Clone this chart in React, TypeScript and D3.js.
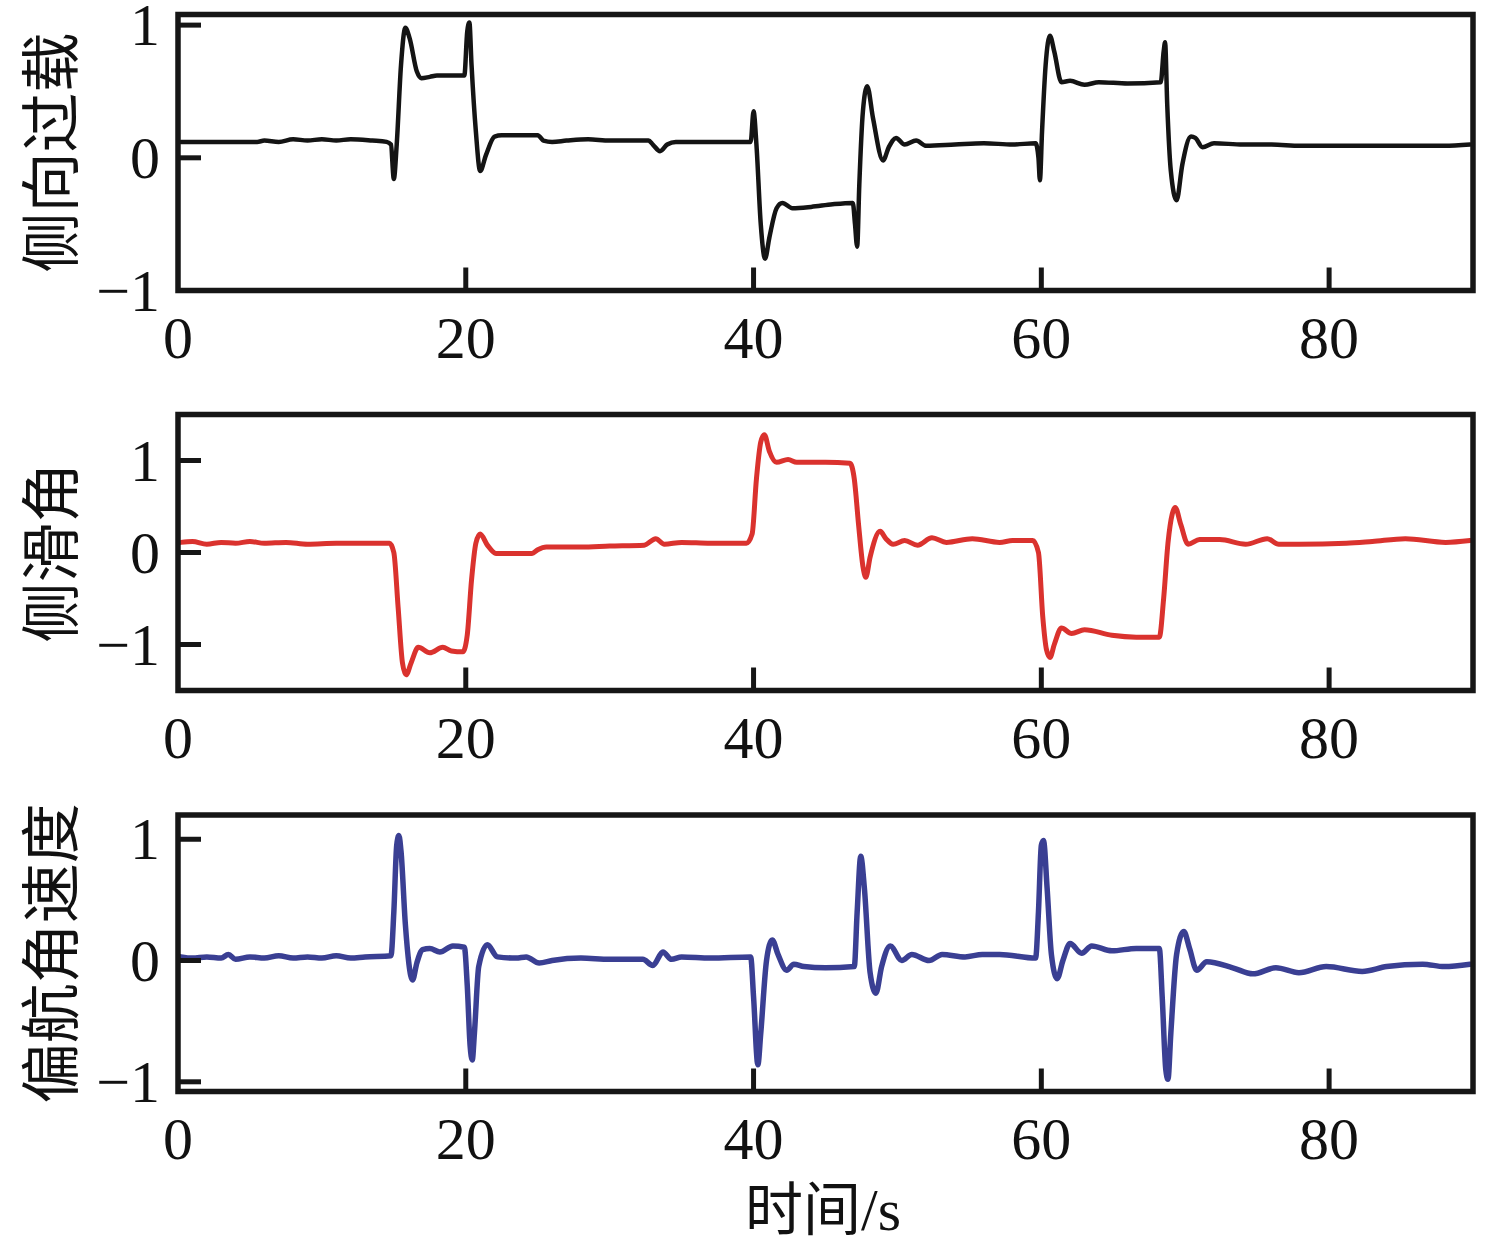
import React from "react";
import * as d3 from "d3";

type P = [number, number];

const timeTicks = [0, 20, 40, 60, 80];
const yTicks = [-1, 0, 1];

const lateralOverload: P[] = [
  [0.2,0.12],[3,0.12],[5.5,0.12],[6,0.13],[7,0.12],[8,0.14],[9,0.13],[10,0.14],[11,0.13],[12,0.14],[13.5,0.13],[14.5,0.12],[14.8,0.10],[15.0,-0.16],[15.2,0.1],[15.5,0.7],[15.8,0.98],[16.1,0.9],[16.6,0.65],[16.9,0.60],[17.5,0.61],[18,0.62],[19,0.62],[19.9,0.62],[20.1,0.95],[20.25,1.02],[20.4,0.7],[20.7,0.2],[21.0,-0.10],[21.4,0.02],[22.0,0.16],[22.5,0.17],[25,0.17],[25.4,0.13],[26,0.12],[27,0.13],[28.5,0.14],[30,0.13],[32.7,0.13],[33.0,0.10],[33.5,0.05],[34,0.10],[34.6,0.12],[39.8,0.12],[40.0,0.35],[40.2,0.1],[40.5,-0.5],[40.8,-0.76],[41.1,-0.6],[41.6,-0.38],[42.0,-0.34],[42.7,-0.38],[44,-0.37],[45.5,-0.35],[46.9,-0.34],[47.05,-0.5],[47.2,-0.67],[47.35,-0.2],[47.6,0.35],[47.9,0.54],[48.3,0.3],[49.0,-0.02],[49.4,0.08],[49.9,0.15],[50.5,0.10],[51.3,0.13],[52,0.09],[54,0.1],[56,0.11],[58,0.1],[59.6,0.11],[59.8,0.0],[59.9,-0.17],[60.05,0.2],[60.3,0.7],[60.6,0.92],[60.9,0.8],[61.4,0.57],[62,0.58],[63,0.55],[64,0.57],[66,0.56],[68.3,0.57],[68.5,0.8],[68.6,0.87],[68.75,0.4],[69.0,-0.1],[69.4,-0.32],[69.8,-0.05],[70.4,0.16],[70.7,0.15],[71.2,0.08],[72,0.11],[74,0.10],[76,0.10],[78,0.09],[80,0.09],[84,0.09],[88,0.09],[89.8,0.10],
];

const sideslipAngle: P[] = [
  [0.2,0.11],[1,0.12],[2,0.09],[3,0.11],[4,0.10],[5,0.12],[6,0.10],[7.5,0.11],[9,0.09],[11,0.10],[13,0.10],[14.7,0.10],[15.0,0.0],[15.3,-0.6],[15.6,-1.2],[15.85,-1.33],[16.2,-1.2],[16.7,-1.03],[17.5,-1.09],[18.4,-1.03],[19,-1.07],[19.8,-1.08],[20.1,-0.9],[20.4,-0.3],[20.7,0.1],[21.0,0.20],[21.5,0.08],[22.1,-0.01],[24.6,-0.01],[25.0,0.03],[25.6,0.06],[28,0.06],[30,0.07],[32.4,0.08],[33.2,0.15],[33.8,0.09],[35,0.11],[37,0.10],[39.5,0.10],[39.9,0.2],[40.2,0.8],[40.5,1.2],[40.75,1.28],[41.1,1.1],[41.6,0.98],[42.4,1.01],[43,0.98],[45,0.98],[46.7,0.97],[47.0,0.8],[47.3,0.3],[47.6,-0.15],[47.8,-0.27],[48.1,-0.05],[48.8,0.23],[49.2,0.15],[49.7,0.09],[50.5,0.13],[51.4,0.08],[52.4,0.16],[53.4,0.11],[55.2,0.15],[57.1,0.11],[58,0.13],[59.4,0.13],[59.8,0.0],[60.1,-0.7],[60.35,-1.05],[60.6,-1.14],[60.9,-1.0],[61.4,-0.82],[62.1,-0.88],[63.0,-0.84],[64.9,-0.90],[66.6,-0.92],[68.2,-0.92],[68.5,-0.5],[68.8,0.1],[69.1,0.42],[69.3,0.49],[69.7,0.3],[70.2,0.09],[71.0,0.14],[72.4,0.14],[74.2,0.09],[75.7,0.15],[76.5,0.09],[77.9,0.09],[81.2,0.10],[83,0.12],[85.3,0.15],[88.1,0.11],[89.8,0.13],
];

const yawRate: P[] = [
  [0.2,0.03],[1,0.02],[2,0.03],[3,0.02],[3.5,0.05],[4,0.01],[5,0.03],[6,0.02],[7,0.04],[8,0.02],[9,0.03],[10,0.02],[11,0.04],[12,0.02],[13,0.03],[14.8,0.04],[15.0,0.4],[15.2,0.95],[15.35,1.03],[15.5,0.9],[15.8,0.3],[16.3,-0.16],[16.6,-0.02],[17.0,0.09],[17.5,0.1],[18.2,0.07],[19.1,0.12],[19.9,0.11],[20.1,-0.2],[20.3,-0.7],[20.45,-0.82],[20.6,-0.6],[20.9,-0.05],[21.5,0.13],[22.2,0.03],[23.5,0.02],[24.2,0.03],[25.1,-0.02],[26,0.0],[28,0.02],[30,0.01],[32.3,0.01],[33.0,-0.04],[33.7,0.07],[34.3,0.01],[35,0.03],[37,0.02],[39.8,0.03],[40.0,-0.3],[40.3,-0.86],[40.5,-0.6],[40.9,0.0],[41.3,0.17],[41.7,0.05],[42.3,-0.08],[42.8,-0.03],[43.5,-0.05],[45,-0.06],[47.0,-0.05],[47.2,0.4],[47.45,0.86],[47.7,0.6],[48.1,-0.1],[48.5,-0.27],[48.9,-0.05],[49.5,0.12],[50.3,0.0],[51.0,0.05],[52.2,0.0],[53.1,0.05],[54.7,0.03],[55.9,0.05],[57.1,0.05],[59.6,0.02],[59.8,0.4],[60.0,0.95],[60.15,0.99],[60.4,0.6],[60.7,0.05],[61.1,-0.15],[61.5,0.0],[62.0,0.14],[62.8,0.06],[63.5,0.12],[64.9,0.08],[66.6,0.10],[68.2,0.10],[68.4,-0.3],[68.65,-0.9],[68.8,-0.98],[69.0,-0.6],[69.4,0.05],[69.9,0.24],[70.3,0.1],[70.8,-0.08],[71.5,-0.01],[73.3,-0.06],[74.7,-0.11],[76.3,-0.06],[77.9,-0.10],[79.8,-0.05],[82.3,-0.09],[84,-0.05],[86.5,-0.03],[88,-0.05],[89.8,-0.03],
];

const panelLabels = ["侧向过载", "侧滑角", "偏航角速度"];
const xAxisTitle = "时间";
const xAxisUnit = "/s";

const W = 1493;
const H = 1244;
const X0 = 178;
const X1 = 1473;
const FRAME = "#161616";
const SERIF = "'Liberation Serif', 'Times New Roman', serif";
const CJK = "'Noto Sans CJK SC', 'Noto Sans CJK JP', sans-serif";

const panels = [
  { data: lateralOverload, color: "#141414", width: 4.5, top: 14.5, bottom: 290.5, domain: [-1, 1.08] as [number, number], label: panelLabels[0] },
  { data: sideslipAngle, color: "#da322e", width: 5, top: 414.5, bottom: 690.5, domain: [-1.5, 1.5] as [number, number], label: panelLabels[1] },
  { data: yawRate, color: "#3a3f93", width: 5.5, top: 815, bottom: 1091.5, domain: [-1.08, 1.2] as [number, number], label: panelLabels[2] },
];

const x = d3.scaleLinear().domain([0, 90]).range([X0, X1]);

function fmt(v: number) {
  return v < 0 ? "\u2212" + Math.abs(v) : String(v);
}

function Panel({ p, i }: { p: (typeof panels)[number]; i: number }) {
  const y = d3.scaleLinear().domain(p.domain).range([p.bottom, p.top]);
  const line = d3
    .line<P>()
    .x((d) => x(d[0]))
    .y((d) => y(d[1]))
    .curve(d3.curveMonotoneX);
  const clipId = `clip${i}`;
  const midY = (p.top + p.bottom) / 2;
  return (
    <g>
      <defs>
        <clipPath id={clipId}>
          <rect x={X0} y={p.top} width={X1 - X0} height={p.bottom - p.top} />
        </clipPath>
      </defs>
      <path
        d={line(p.data) || ""}
        fill="none"
        stroke={p.color}
        strokeWidth={p.width}
        strokeLinejoin="round"
        strokeLinecap="round"
        clipPath={`url(#${clipId})`}
      />
      {yTicks.map((t) => (
        <g key={"y" + t}>
          <line x1={X0} x2={X0 + 23} y1={y(t)} y2={y(t)} stroke={FRAME} strokeWidth={5} />
          <text
            x={160}
            y={y(t)}
            textAnchor="end"
            dominantBaseline="central"
            fontFamily={SERIF}
            fontSize={60}
            fill="#111"
          >
            {fmt(t)}
          </text>
        </g>
      ))}
      {timeTicks.map((t) => (
        <g key={"x" + t}>
          {t > 0 && (
            <line x1={x(t)} x2={x(t)} y1={p.bottom} y2={p.bottom - 23} stroke={FRAME} strokeWidth={5} />
          )}
          <text
            x={x(t)}
            y={p.bottom + 67}
            textAnchor="middle"
            fontFamily={SERIF}
            fontSize={60}
            fill="#111"
          >
            {t}
          </text>
        </g>
      ))}
      <rect
        x={X0}
        y={p.top}
        width={X1 - X0}
        height={p.bottom - p.top}
        fill="none"
        stroke={FRAME}
        strokeWidth={5.5}
      />
      <text
        transform={`translate(46,${midY}) rotate(-90)`}
        textAnchor="middle"
        dominantBaseline="central"
        fontFamily={CJK}
        fontSize={60}
        fill="#111"
      >
        {p.label}
      </text>
    </g>
  );
}

export default function App() {
  return (
    <div style={{ position: "absolute", left: 0, top: 0, width: W, height: H, background: "#fff" }}>
      <svg width={W} height={H} viewBox={`0 0 ${W} ${H}`} style={{ display: "block" }}>
        <rect width={W} height={H} fill="#fff" />
        {panels.map((p, i) => (
          <Panel key={i} p={p} i={i} />
        ))}
        <text x={823} y={1230} textAnchor="middle" fontSize={58} fill="#111">
          <tspan fontFamily={CJK}>{xAxisTitle}</tspan>
          <tspan fontFamily={SERIF} fontSize={60}>{xAxisUnit}</tspan>
        </text>
      </svg>
    </div>
  );
}
